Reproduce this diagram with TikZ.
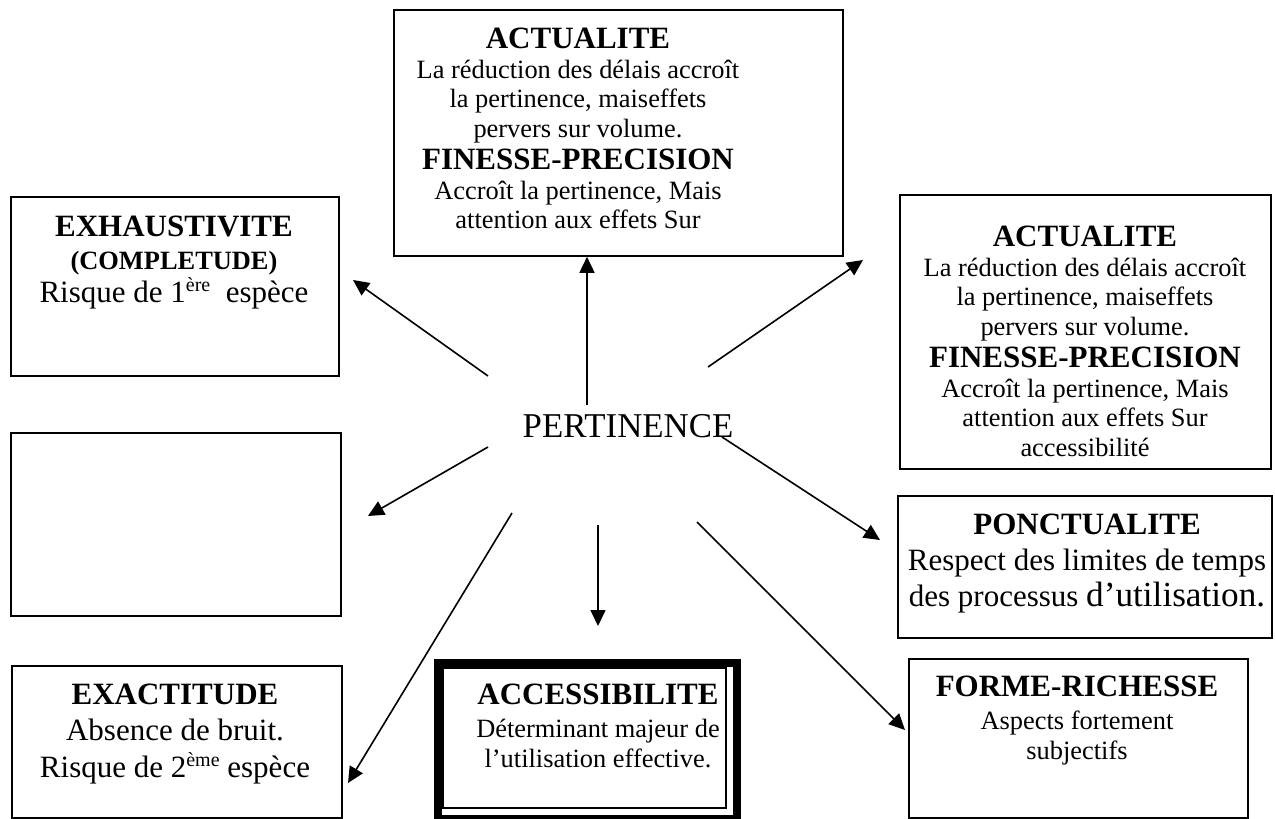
\documentclass[tikz,border=0pt]{standalone}
\usepackage{fontspec}
\setmainfont{Liberation Serif}
\usetikzlibrary{arrows.meta}
\newcommand\hdfont{\bfseries\fontsize{31}{31}\selectfont}
\newcommand\bigtxt{\fontsize{31}{31}\selectfont}
\newcommand\supx[1]{\raisebox{0.36em}{\fontsize{20}{20}\selectfont #1}}
\begin{document}
\begin{tikzpicture}[x=1pt,y=-1pt,
  box/.style={draw, line width=1.8pt, inner sep=0pt, anchor=north west},
  txt/.style={anchor=north, inner sep=0pt, align=center},
  arr/.style={line width=1.6pt, -{Triangle[length=16pt,width=15pt]}}]
\useasboundingbox (0,0) rectangle (1275,819);
% boxes
\node[box, minimum width=449pt, minimum height=246pt] (top) at (393,9) {};
\node[box, minimum width=371pt, minimum height=274pt] (act) at (899,194) {};
\node[box, minimum width=328pt, minimum height=179pt] (exh) at (10,196) {};
\node[box, minimum width=330pt, minimum height=183pt] (empty) at (10,432) {};
\node[box, minimum width=330pt, minimum height=152pt] (exa) at (11,665) {};
\node[box, minimum width=374pt, minimum height=142pt] (pon) at (897,495) {};
\node[box, minimum width=339pt, minimum height=159pt] (for) at (908,658) {};
\node[draw, line width=8pt, inner sep=0pt, anchor=north west, minimum width=299pt, minimum height=156pt] (acc) at (434,659) {};
\node[box, minimum width=283pt, minimum height=140pt] (accin) at (442,667) {};
% texts
\node[txt, font=\fontsize{26.4}{29.5}\selectfont] (topT) at (578,28) {%
{\hdfont ACTUALITE}\\
La réduction des délais accroît\\
la pertinence, maiseffets\\
pervers sur volume.\\[3pt]
{\hdfont FINESSE-PRECISION}\\
Accroît la pertinence, Mais\\
attention aux effets Sur};
\node[txt, font=\fontsize{26.4}{29.5}\selectfont] (actT) at (1085,226) {%
{\hdfont ACTUALITE}\\
La réduction des délais accroît\\
la pertinence, maiseffets\\
pervers sur volume.\\[3pt]
{\hdfont FINESSE-PRECISION}\\
Accroît la pertinence, Mais\\
attention aux effets Sur\\
accessibilité};
\node[txt, font=\fontsize{26.4}{33}\selectfont] (exhT) at (174,216) {%
{\hdfont EXHAUSTIVITE}\\
{\bfseries (COMPLETUDE)}\\
{\bigtxt Risque de 1\supx{ère}\ \ espèce}};
\node[txt, font=\fontsize{31}{35.5}\selectfont] (exaT) at (175,684) {%
{\hdfont EXACTITUDE}\\
Absence de bruit.\\[2pt]
Risque de 2\supx{ème} espèce};
\node[txt, font=\fontsize{26.4}{30}\selectfont] (accT) at (598,684) {%
{\hdfont ACCESSIBILITE}\\[3pt]
Déterminant majeur de\\
l’utilisation effective.};
\node[txt, font=\fontsize{31}{36}\selectfont] (ponT) at (1087,514) {%
{\hdfont PONCTUALITE}\\
Respect des limites de temps\\
des processus {\fontsize{35.2}{35.2}\selectfont d’utilisation.}};
\node[txt, font=\fontsize{26.4}{30.5}\selectfont] (forT) at (1077,676) {%
{\hdfont FORME-RICHESSE}\\[2pt]
Aspects fortement\\
subjectifs};
\node[anchor=base, inner sep=0pt, font=\fontsize{34.8}{35}\selectfont] (pert) at (628,437) {PERTINENCE};
% arrow ends
\coordinate (s1) at (587,405);
\coordinate (s2) at (488,376);  \coordinate (e2) at (353,280);
\coordinate (s3) at (708,367);  \coordinate (e3) at (863,260);
\coordinate (s4) at (488,447);  \coordinate (e4) at (368,516);
\coordinate (s5) at (512,513);  \coordinate (e5) at (348,783);
\coordinate (s6) at (598,525);  \coordinate (e6) at (598,626);
\coordinate (s7) at (697,522);  \coordinate (e7) at (905,730);
\coordinate (s8) at (722,437);  \coordinate (e8) at (880,540);
\draw[arr] (s1) -- (s1 |- top.south);
\draw[arr] (s2) -- (e2);
\draw[arr] (s3) -- (e3);
\draw[arr] (s4) -- (e4);
\draw[arr] (s5) -- (e5);
\draw[arr] (s6) -- (e6);
\draw[arr] (s7) -- (e7);
\draw[arr] (s8) -- (e8);
\end{tikzpicture}
\end{document}
